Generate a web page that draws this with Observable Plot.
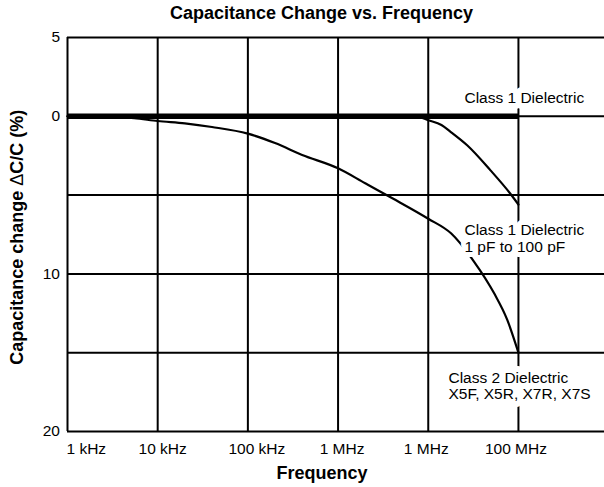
<!DOCTYPE html>
<html>
<head>
<meta charset="utf-8">
<script src="https://cdn.jsdelivr.net/npm/d3@7"></script>
<script src="https://cdn.jsdelivr.net/npm/@observablehq/plot@0.6"></script>
<style>
  html, body { margin: 0; padding: 0; background: #fff; }
  #chart svg { display: block; }
</style>
</head>
<body>
<div id="chart"></div>
<script>
// ---- Data ----
const titleText = "Capacitance Change vs. Frequency";
const xTitle = "Frequency";
const yTitle = "Capacitance change \u0394C/C (%)";

const xTickValues = [1e3, 1e4, 1e5, 1e6, 1e7, 1e8];
const xTickLabels = ["1 kHz", "10 kHz", "100 kHz", "1 MHz", "1 MHz", "100 MHz"];
const yTickValues = [-5, 0, 10, 20];
const yTickLabels = ["5", "0", "10", "20"];
const yGridValues = [-5, 0, 5, 10, 15, 20];

// Class 1 Dielectric (flat)
const class1Freq = [1e3, 1e8];
const class1Val = [0, 0];

// Class 1 Dielectric 1 pF to 100 pF
const smallCapFreq = [1e3, 5e6, 7.9e6, 1e7, 1.4e7, 1.78e7, 2.7e7, 4.9e7, 8.1e7, 1e8];
const smallCapVal  = [0,   0,   0.05,  0.25, 0.55, 1.0,   1.84,  3.43,  4.9,   5.6];

// Class 2 Dielectric X5F, X5R, X7R, X7S
const class2Freq = [1e3, 3e3, 5.5e3, 1e4, 2e4, 4e4, 1e5, 2e5, 4e5, 1e6, 2e6, 4e6, 1e7, 1.8e7, 3.2e7, 5.4e7, 7.5e7, 1e8];
const class2Val  = [0,   0.03, 0.12, 0.3, 0.45, 0.68, 1.1, 1.7, 2.45, 3.3, 4.25, 5.2, 6.5, 7.44, 9.2,   11.25, 12.9, 15];

const labelClass1 = "Class 1 Dielectric";
const labelSmallCap = "Class 1 Dielectric\n1 pF to 100 pF";
const labelClass2 = "Class 2 Dielectric\nX5F, X5R, X7R, X7S";

// ---- Build tables ----
const toRows = (f, v) => f.map((d, i) => ({f: d, v: v[i]}));
const class1 = toRows(class1Freq, class1Val);
const smallCap = toRows(smallCapFreq, smallCapVal);
const class2 = toRows(class2Freq, class2Val);
const lastOf = a => [a[a.length - 1]];

const font = "'Liberation Sans', Arial, Helvetica, sans-serif";
const xLabelShift = [-1, 5, 9, 4, -2, -2.5];
const halo = w => ({stroke: "#fff", strokeWidth: w, paintOrder: "stroke", strokeLinejoin: "round"});

const chart = Plot.plot({
  width: 604,
  height: 487,
  marginLeft: 67,
  marginRight: 0,
  marginTop: 37,
  marginBottom: 56,
  style: {fontFamily: font, fontSize: "15.5px", color: "#000", background: "#fff"},
  x: {type: "log", domain: [1e3, 9e8]},
  y: {domain: [-5, 20], reverse: true},
  marks: [
    // grid
    Plot.ruleY(yGridValues, {stroke: "#000", strokeWidth: 2}),
    Plot.ruleX(xTickValues, {stroke: "#000", strokeWidth: 2}),
    // axes
    Plot.axisY({
      ticks: yTickValues, tickSize: 0, tickPadding: 7.5, label: null,
      tickFormat: d => yTickLabels[yTickValues.indexOf(d)], fontSize: 15.5
    }),
    ...xTickValues.map((v, i) => Plot.axisX({
      ticks: [v], tickSize: 0, tickPadding: 11, label: null,
      textAnchor: i === 0 ? "start" : "middle", dx: xLabelShift[i],
      tickFormat: d => xTickLabels[xTickValues.indexOf(d)], fontSize: 15.5
    })),
    // curves
    Plot.line(class2, {x: "f", y: "v", stroke: "#000", strokeWidth: 2.2, curve: "monotone-x"}),
    Plot.line(smallCap, {x: "f", y: "v", stroke: "#000", strokeWidth: 2.2, curve: "monotone-x"}),
    Plot.line(class1, {x: "f", y: "v", stroke: "#000", strokeWidth: 5.5, strokeLinecap: "butt"}),
    // annotations
    Plot.text(lastOf(class1), {x: "f", y: "v", text: () => labelClass1, textAnchor: "start",
      lineAnchor: "top", dx: -54, dy: -24.4, fontSize: 15.5, fill: "#000", ...halo(12)}),
    Plot.text(lastOf(smallCap), {x: "f", y: "v", text: () => labelSmallCap, textAnchor: "start",
      lineAnchor: "top", dx: -54, dy: 19, lineHeight: 1.08, fontSize: 15.5, fill: "#000", ...halo(10)}),
    Plot.text(lastOf(class2), {x: "f", y: "v", text: () => labelClass2, textAnchor: "start",
      lineAnchor: "top", dx: -70, dy: 18, lineHeight: 1.08, fontSize: 15.5, fill: "#000", ...halo(12)}),
    // titles
    Plot.text([titleText], {frameAnchor: "top", text: d => d, lineAnchor: "top", textAnchor: "middle",
      dx: -14.5, dy: -31, fontSize: 18, fontWeight: "bold", fill: "#000"}),
    Plot.text([xTitle], {frameAnchor: "bottom", text: d => d, lineAnchor: "top", textAnchor: "middle",
      dx: -14, dy: 35, fontSize: 18, fontWeight: "bold", fill: "#000"}),
    Plot.text([yTitle], {frameAnchor: "left", text: d => d, rotate: -90,
      textAnchor: "middle", lineAnchor: "middle",
      dx: -50.5, dy: 2.7, fontSize: 18, fontWeight: "bold", fill: "#000"})
  ]
});
document.getElementById("chart").appendChild(chart);

// Render the delta sign in regular weight (outline look), keeping text as text
chart.querySelectorAll("text").forEach(t => {
  if (t.textContent === yTitle) {
    const parts = yTitle.split("\u0394");
    t.textContent = "";
    const ns = "http://www.w3.org/2000/svg";
    const a = document.createElementNS(ns, "tspan"); a.textContent = parts[0];
    const b = document.createElementNS(ns, "tspan"); b.textContent = "\u0394";
    b.setAttribute("font-weight", "normal");
    const c = document.createElementNS(ns, "tspan"); c.textContent = parts[1];
    t.append(a, b, c);
  }
});
</script>
</body>
</html>
